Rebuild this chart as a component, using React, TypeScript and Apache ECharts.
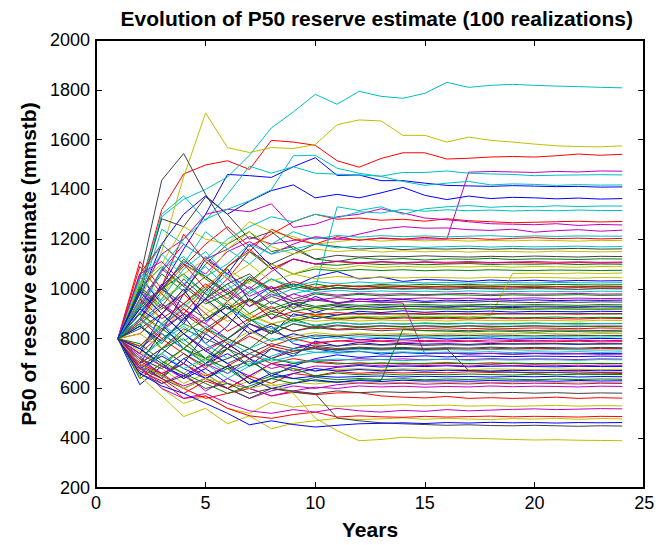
import React, { useEffect, useRef } from "react";
import * as echarts from "echarts";

// Simulation years (x positions of every realization)
const YEARS = [1, 2, 3, 4, 5, 6, 7, 8, 9, 10, 11, 12, 13, 14, 15, 16, 17, 18, 19, 20, 21, 22, 23, 24];

// P50 reserve estimate (mmstb) per realization, grouped by the colour they are plotted in
const BLUE_RUNS = [
  [800, 905, 1010, 1160, 1300, 1460, 1455, 1448, 1491, 1527, 1456, 1458, 1435, 1435, 1425, 1416, 1414, 1412, 1415, 1413, 1411, 1412, 1409, 1410],
  [800, 960, 1180, 1300, 1374, 1300, 1352, 1395, 1418, 1366, 1380, 1366, 1386, 1408, 1376, 1359, 1373, 1363, 1368, 1366, 1362, 1365, 1361, 1363],
  [800, 700, 830, 980, 1120, 1060, 1180, 1090, 1010, 1050, 1070, 1040, 1048, 1030, 1038, 1035, 1030, 1036, 1032, 1035, 1031, 1034, 1032, 1033],
  [800, 1050, 940, 860, 990, 1080, 950, 1010, 920, 970, 940, 960, 952, 958, 950, 955, 953, 957, 954, 956, 953, 955, 954, 955],
  [800, 880, 1020, 890, 780, 850, 960, 880, 940, 905, 930, 920, 925, 930, 928, 926, 929, 927, 925, 928, 927, 926, 928, 927],
  [800, 650, 760, 700, 820, 760, 860, 820, 900, 880, 895, 910, 905, 912, 906, 910, 908, 911, 907, 910, 909, 908, 910, 909],
  [800, 740, 900, 1000, 870, 930, 840, 790, 820, 800, 810, 795, 802, 798, 804, 799, 801, 803, 798, 800, 802, 799, 801, 800],
  [800, 615, 690, 650, 700, 740, 690, 760, 730, 790, 770, 785, 776, 782, 778, 780, 777, 781, 778, 780, 779, 777, 780, 779],
  [800, 850, 790, 880, 960, 890, 820, 850, 780, 760, 745, 750, 738, 744, 740, 742, 739, 741, 738, 741, 740, 739, 741, 740],
  [800, 700, 640, 720, 660, 600, 650, 700, 690, 720, 735, 725, 730, 728, 731, 727, 730, 729, 728, 730, 729, 728, 730, 729],
  [800, 920, 860, 760, 700, 780, 720, 650, 690, 670, 685, 692, 686, 690, 688, 691, 687, 689, 690, 688, 687, 689, 688, 688],
  [800, 760, 700, 640, 680, 620, 600, 640, 660, 680, 670, 676, 671, 674, 670, 673, 672, 670, 673, 671, 672, 673, 671, 672],
  [800, 680, 730, 680, 640, 690, 620, 660, 640, 650, 645, 648, 650, 646, 649, 647, 648, 646, 648, 647, 649, 646, 648, 647],
  [800, 990, 900, 820, 750, 700, 640, 600, 620, 635, 625, 632, 628, 633, 630, 631, 629, 632, 630, 631, 629, 632, 630, 631],
  [800, 660, 610, 580, 540, 500, 454, 470, 455, 445, 452, 458, 460, 462, 459, 463, 461, 464, 462, 463, 461, 463, 462, 463],
];

const GREEN_RUNS = [
  [800, 940, 1060, 990, 1100, 1180, 1230, 1150, 1170, 1120, 1110, 1125, 1118, 1122, 1116, 1121, 1119, 1123, 1118, 1121, 1120, 1118, 1121, 1120],
  [800, 1010, 930, 1040, 960, 1090, 1150, 1080, 1120, 1100, 1095, 1103, 1098, 1101, 1097, 1100, 1102, 1098, 1100, 1099, 1101, 1098, 1100, 1099],
  [800, 880, 990, 1120, 1040, 980, 1030, 1100, 1060, 1080, 1072, 1078, 1074, 1077, 1073, 1076, 1074, 1077, 1075, 1074, 1076, 1075, 1074, 1075],
  [800, 770, 860, 940, 1010, 950, 1040, 990, 1020, 1000, 1015, 1010, 1018, 1014, 1019, 1016, 1018, 1015, 1017, 1016, 1018, 1017, 1016, 1017],
  [800, 930, 1000, 1060, 980, 920, 990, 1040, 1000, 1020, 1005, 1012, 1007, 1010, 1008, 1011, 1009, 1007, 1010, 1008, 1009, 1011, 1008, 1009],
  [800, 850, 780, 880, 960, 1020, 930, 990, 950, 980, 970, 978, 972, 976, 974, 977, 975, 973, 976, 974, 975, 977, 974, 975],
  [800, 720, 800, 860, 820, 900, 960, 920, 950, 930, 940, 934, 938, 935, 937, 934, 936, 938, 935, 937, 936, 934, 937, 936],
  [800, 1000, 1090, 1010, 940, 980, 900, 950, 910, 925, 915, 920, 917, 921, 918, 920, 917, 921, 919, 918, 920, 919, 918, 919],
  [800, 760, 690, 760, 840, 800, 870, 900, 870, 890, 880, 886, 882, 887, 884, 886, 883, 886, 884, 885, 887, 884, 886, 885],
  [800, 900, 840, 780, 720, 800, 760, 830, 880, 850, 865, 858, 862, 859, 863, 860, 862, 859, 861, 863, 860, 862, 860, 861],
  [800, 690, 740, 820, 880, 940, 880, 820, 860, 840, 852, 846, 851, 848, 852, 849, 851, 848, 850, 852, 849, 851, 849, 850],
  [800, 700, 650, 700, 640, 680, 620, 650, 640, 630, 625, 635, 632, 838, 832, 830, 827, 831, 829, 826, 830, 828, 827, 828],
  [800, 860, 760, 800, 720, 760, 690, 720, 700, 710, 702, 698, 703, 699, 701, 704, 700, 698, 702, 700, 699, 701, 700, 700],
  [800, 640, 700, 760, 720, 680, 710, 660, 680, 650, 662, 655, 659, 654, 657, 655, 658, 656, 654, 657, 655, 657, 656, 656],
  [800, 780, 710, 660, 620, 580, 610, 640, 620, 645, 635, 640, 636, 639, 635, 638, 636, 639, 637, 635, 638, 636, 638, 637],
];

const RED_RUNS = [
  [800, 1000, 1319, 1462, 1498, 1515, 1480, 1597, 1590, 1577, 1515, 1489, 1524, 1547, 1547, 1522, 1525, 1530, 1532, 1530, 1535, 1542, 1537, 1541],
  [800, 1110, 1000, 1090, 1180, 1250, 1170, 1220, 1270, 1300, 1280, 1285, 1276, 1280, 1272, 1282, 1274, 1270, 1266, 1268, 1270, 1272, 1269, 1271],
  [800, 870, 1010, 1220, 1110, 1040, 1150, 1240, 1200, 1180, 1210, 1195, 1205, 1200, 1207, 1201, 1204, 1199, 1203, 1206, 1202, 1204, 1201, 1203],
  [800, 1090, 980, 900, 1000, 1090, 1160, 1080, 1120, 1100, 1110, 1102, 1108, 1104, 1107, 1103, 1106, 1104, 1107, 1105, 1103, 1106, 1104, 1105],
  [800, 960, 880, 940, 1020, 960, 1050, 1000, 1030, 1005, 1015, 1008, 1012, 1009, 1011, 1008, 1012, 1010, 1009, 1011, 1010, 1008, 1011, 1010],
  [800, 1060, 1180, 1100, 1000, 920, 960, 880, 910, 895, 905, 898, 902, 899, 903, 900, 898, 902, 899, 901, 900, 898, 901, 900],
  [800, 820, 900, 980, 900, 830, 880, 930, 870, 890, 876, 884, 879, 883, 880, 882, 879, 883, 880, 882, 881, 879, 882, 881],
  [800, 740, 820, 760, 830, 890, 820, 860, 830, 850, 838, 845, 840, 843, 841, 844, 840, 843, 841, 843, 842, 840, 843, 842],
  [800, 880, 800, 740, 680, 760, 810, 770, 800, 780, 792, 786, 790, 785, 789, 787, 790, 786, 789, 787, 788, 790, 787, 788],
  [800, 770, 850, 920, 840, 780, 720, 770, 750, 765, 755, 762, 758, 761, 757, 760, 758, 762, 759, 761, 760, 758, 761, 760],
  [800, 720, 660, 700, 650, 690, 740, 700, 720, 705, 698, 703, 699, 702, 698, 701, 699, 703, 700, 698, 701, 699, 701, 700],
  [800, 690, 640, 580, 630, 600, 650, 620, 660, 650, 668, 661, 666, 662, 665, 663, 667, 664, 666, 663, 665, 667, 664, 665],
  [800, 700, 660, 600, 560, 580, 600, 570, 585, 575, 582, 583, 570, 565, 562, 568, 560, 563, 560, 562, 565, 560, 563, 561],
  [800, 670, 630, 560, 570, 520, 490, 480, 495, 505, 485, 490, 486, 484, 488, 485, 487, 489, 486, 488, 487, 485, 488, 487],
];

const CYAN_RUNS = [
  [800, 980, 1290, 1360, 1400, 1450, 1537, 1647, 1711, 1782, 1742, 1794, 1774, 1766, 1786, 1830, 1810, 1818, 1822, 1818, 1815, 1813, 1810, 1808],
  [800, 1000, 1300, 1374, 1275, 1380, 1493, 1465, 1491, 1465, 1461, 1458, 1453, 1468, 1468, 1474, 1465, 1462, 1460, 1455, 1457, 1458, 1459, 1458],
  [800, 930, 1080, 1200, 1280, 1320, 1354, 1399, 1535, 1537, 1485, 1465, 1452, 1432, 1416, 1425, 1432, 1418, 1422, 1420, 1416, 1419, 1417, 1418],
  [800, 1020, 1140, 1050, 980, 1060, 1000, 940, 980, 1000, 1330, 1315, 1330, 1300, 1322, 1330, 1335, 1328, 1332, 1330, 1334, 1331, 1333, 1333],
  [800, 960, 1240, 1180, 1120, 1200, 1250, 1290, 1270, 1300, 1285, 1310, 1305, 1320, 1312, 1318, 1314, 1317, 1313, 1316, 1314, 1317, 1315, 1315],
  [800, 1040, 1180, 1100, 1230, 1160, 1100, 1180, 1230, 1200, 1215, 1208, 1214, 1210, 1213, 1209, 1212, 1214, 1210, 1213, 1211, 1213, 1212, 1212],
  [800, 900, 1080, 1130, 1050, 1100, 1180, 1140, 1160, 1180, 1165, 1172, 1168, 1171, 1167, 1170, 1172, 1168, 1171, 1169, 1170, 1172, 1169, 1170],
  [800, 850, 960, 1080, 1150, 1050, 980, 1040, 1010, 1030, 1020, 1028, 1023, 1027, 1024, 1026, 1023, 1027, 1025, 1024, 1026, 1025, 1024, 1025],
  [800, 1050, 950, 1020, 1090, 1000, 1050, 970, 1000, 985, 995, 988, 992, 989, 991, 988, 992, 990, 989, 991, 990, 988, 991, 990],
  [800, 760, 850, 930, 1000, 920, 880, 840, 870, 855, 865, 858, 862, 859, 861, 858, 862, 860, 859, 861, 860, 858, 861, 860],
  [800, 720, 790, 850, 780, 720, 760, 800, 790, 810, 802, 808, 805, 809, 806, 808, 805, 809, 807, 806, 808, 807, 806, 808],
  [800, 880, 820, 760, 700, 640, 690, 730, 760, 745, 752, 758, 754, 757, 753, 756, 754, 757, 755, 754, 756, 755, 754, 755],
  [800, 940, 860, 790, 850, 790, 740, 710, 730, 745, 742, 748, 744, 747, 743, 746, 745, 748, 744, 747, 746, 748, 745, 747],
  [800, 660, 740, 680, 720, 660, 700, 720, 705, 712, 718, 713, 716, 712, 715, 717, 713, 716, 714, 716, 715, 713, 716, 715],
];

const MAGENTA_RUNS = [
  [800, 950, 1070, 1180, 1120, 1160, 1210, 1180, 1195, 1205, 1200, 1198, 1203, 1199, 1201, 1200, 1469, 1472, 1470, 1468, 1472, 1470, 1474, 1473],
  [800, 980, 1140, 1200, 1300, 1320, 1310, 1342, 1247, 1260, 1290, 1300, 1322, 1305, 1285, 1278, 1270, 1262, 1260, 1258, 1262, 1255, 1259, 1257],
  [800, 900, 1000, 1110, 1060, 1150, 1190, 1140, 1180, 1210, 1200, 1220, 1240, 1250, 1244, 1245, 1238, 1235, 1240, 1228, 1234, 1238, 1232, 1236],
  [800, 920, 1080, 1010, 1130, 1060, 1000, 1070, 1120, 1100, 1112, 1105, 1110, 1106, 1109, 1107, 1110, 1106, 1108, 1110, 1107, 1109, 1107, 1108],
  [800, 870, 940, 880, 960, 1040, 970, 1010, 960, 985, 975, 982, 978, 981, 977, 980, 982, 978, 981, 979, 980, 982, 979, 980],
  [800, 760, 840, 900, 860, 950, 1010, 940, 980, 955, 965, 958, 963, 960, 964, 961, 963, 960, 962, 964, 961, 963, 961, 962],
  [800, 940, 1000, 920, 860, 800, 860, 820, 860, 845, 855, 848, 852, 849, 851, 848, 852, 850, 849, 851, 850, 848, 851, 850],
  [800, 700, 760, 820, 750, 800, 760, 720, 760, 785, 790, 796, 791, 795, 792, 794, 791, 795, 793, 792, 794, 793, 792, 793],
  [800, 1060, 1110, 1020, 950, 1000, 930, 980, 950, 960, 945, 950, 948, 943, 739, 742, 738, 741, 737, 740, 738, 740, 737, 738],
  [800, 740, 690, 640, 700, 660, 720, 680, 700, 715, 712, 720, 716, 719, 715, 718, 716, 720, 717, 719, 718, 716, 719, 718],
  [800, 730, 650, 610, 640, 690, 650, 700, 670, 690, 688, 696, 691, 695, 692, 694, 690, 695, 692, 694, 693, 691, 694, 693],
  [800, 710, 660, 700, 640, 600, 560, 590, 610, 600, 615, 622, 618, 621, 617, 620, 618, 622, 619, 621, 620, 618, 621, 620],
  [800, 680, 620, 660, 590, 640, 600, 570, 590, 605, 600, 610, 606, 609, 605, 608, 606, 610, 607, 609, 608, 606, 609, 608],
  [800, 690, 600, 560, 580, 540, 510, 500, 515, 505, 520, 510, 505, 512, 508, 515, 510, 513, 516, 518, 515, 517, 519, 518],
];

const YELLOW_RUNS = [
  [800, 950, 1150, 1450, 1707, 1568, 1548, 1568, 1564, 1580, 1660, 1679, 1675, 1617, 1617, 1590, 1610, 1597, 1590, 1582, 1575, 1572, 1571, 1575],
  [800, 1020, 1100, 1250, 1200, 1180, 1270, 1230, 1210, 1180, 1190, 1200, 1192, 1197, 1193, 1196, 1192, 1195, 1193, 1196, 1194, 1192, 1195, 1194],
  [800, 870, 980, 1100, 1040, 1160, 1230, 1170, 1140, 1160, 1150, 1156, 1148, 1153, 1149, 1152, 1148, 1151, 1150, 1148, 1152, 1150, 1149, 1150],
  [800, 900, 830, 920, 1010, 1080, 1020, 1100, 1060, 1090, 1080, 1094, 1086, 1091, 1087, 1090, 1088, 1091, 1087, 1090, 1089, 1087, 1090, 1089],
  [800, 860, 920, 990, 920, 870, 900, 860, 880, 895, 885, 890, 888, 892, 889, 891, 888, 893, 1062, 1063, 1061, 1064, 1062, 1064],
  [800, 1030, 980, 1060, 1120, 1040, 1100, 1030, 1060, 1040, 1050, 1043, 1048, 1044, 1047, 1045, 1043, 1047, 1044, 1046, 1045, 1043, 1046, 1045],
  [800, 880, 960, 1020, 950, 890, 950, 900, 930, 915, 925, 918, 922, 919, 921, 918, 922, 920, 919, 921, 920, 918, 921, 920],
  [800, 820, 760, 830, 900, 950, 890, 860, 880, 870, 876, 871, 875, 872, 874, 871, 875, 873, 872, 874, 873, 871, 874, 873],
  [800, 750, 690, 760, 710, 780, 830, 790, 810, 825, 815, 822, 818, 821, 817, 820, 818, 822, 819, 821, 820, 818, 821, 820],
  [800, 640, 700, 660, 720, 680, 640, 700, 680, 670, 676, 680, 675, 679, 676, 678, 675, 679, 677, 676, 678, 677, 676, 677],
  [800, 720, 680, 620, 660, 600, 630, 610, 625, 618, 628, 622, 626, 623, 627, 624, 626, 623, 625, 627, 624, 626, 624, 625],
  [800, 690, 600, 540, 570, 520, 500, 545, 525, 535, 528, 530, 532, 535, 530, 533, 529, 531, 528, 530, 532, 529, 531, 530],
  [800, 650, 570, 487, 520, 458, 490, 438, 460, 470, 480, 475, 478, 482, 476, 480, 477, 475, 479, 477, 480, 476, 479, 478],
  [800, 700, 650, 600, 640, 620, 600, 620, 580, 481, 430, 390, 395, 404, 400, 402, 400, 398, 395, 393, 394, 392, 391, 390],
];

const BLACK_RUNS = [
  [800, 1040, 1437, 1544, 1380, 1240, 1150, 1100, 1140, 1180, 1170, 1160, 1165, 1158, 1162, 1160, 1163, 1159, 1162, 1160, 1161, 1163, 1160, 1161],
  [800, 980, 1282, 1250, 1370, 1300, 1200, 1230, 1160, 1120, 1135, 1128, 1132, 1129, 1133, 1130, 1128, 1131, 1129, 1132, 1130, 1128, 1131, 1130],
  [800, 900, 1010, 1100, 1050, 980, 1040, 1000, 1020, 995, 1005, 1000, 1006, 1002, 1005, 1003, 1006, 1002, 1004, 1006, 1003, 1005, 1003, 1004],
  [800, 860, 930, 870, 960, 1020, 1060, 990, 1010, 995, 1003, 998, 1002, 999, 1001, 998, 1002, 1000, 999, 1001, 1000, 998, 1001, 1000],
  [800, 1000, 920, 980, 1050, 990, 930, 970, 940, 955, 945, 950, 946, 949, 945, 948, 946, 950, 947, 945, 948, 946, 948, 947],
  [800, 760, 830, 900, 840, 900, 960, 910, 940, 925, 935, 928, 932, 929, 931, 928, 932, 930, 929, 931, 930, 928, 931, 930],
  [800, 920, 1000, 940, 880, 930, 870, 910, 890, 905, 895, 902, 898, 901, 897, 900, 902, 898, 901, 899, 900, 902, 899, 900],
  [800, 700, 760, 840, 800, 760, 820, 860, 830, 845, 835, 838, 832, 836, 833, 835, 832, 836, 834, 833, 835, 834, 833, 834],
  [800, 840, 900, 820, 760, 800, 860, 830, 800, 815, 810, 816, 812, 815, 811, 814, 812, 815, 813, 811, 814, 813, 812, 813],
  [800, 700, 650, 720, 760, 700, 740, 780, 760, 775, 770, 778, 774, 777, 773, 776, 774, 777, 780, 778, 781, 779, 778, 780],
  [800, 880, 820, 760, 700, 760, 720, 760, 740, 770, 760, 766, 762, 765, 761, 764, 762, 766, 763, 765, 764, 762, 765, 764],
  [800, 720, 680, 740, 690, 720, 760, 720, 750, 760, 755, 762, 758, 760, 757, 759, 672, 668, 665, 662, 664, 661, 662, 660],
  [800, 680, 640, 600, 640, 600, 560, 600, 585, 579, 590, 583, 587, 584, 586, 583, 585, 582, 584, 581, 583, 580, 582, 581],
  [800, 660, 620, 650, 600, 620, 580, 600, 590, 579, 481, 470, 462, 458, 455, 452, 454, 451, 450, 452, 450, 448, 450, 449],
];

// Colour order used for successive realizations (b, g, r, c, m, y, k)
const COLOR_GROUPS = [
  { color: "#0000ff", runs: BLUE_RUNS },
  { color: "#008000", runs: GREEN_RUNS },
  { color: "#ff0000", runs: RED_RUNS },
  { color: "#00bfbf", runs: CYAN_RUNS },
  { color: "#bf00bf", runs: MAGENTA_RUNS },
  { color: "#bfbf00", runs: YELLOW_RUNS },
  { color: "#404040", runs: BLACK_RUNS },
];

const X_TICKS = [0, 5, 10, 15, 20, 25];
const Y_TICKS = [200, 400, 600, 800, 1000, 1200, 1400, 1600, 1800, 2000];

const FONT = "'Liberation Sans', Arial, Helvetica, sans-serif";

function buildSeries() {
  const series: any[] = [];
  const maxRuns = Math.max(...COLOR_GROUPS.map((g) => g.runs.length));
  for (let k = 0; k < maxRuns; k++) {
    for (const group of COLOR_GROUPS) {
      const run = group.runs[k];
      if (!run) continue;
      series.push({
        type: "line",
        name: `Realization ${series.length + 1}`,
        data: run.map((v, i) => [YEARS[i], v]),
        showSymbol: false,
        symbol: "none",
        lineStyle: { color: group.color, width: 1 },
        itemStyle: { color: group.color },
        silent: true,
        z: 2,
      });
    }
  }
  return series;
}

export default function App() {
  const ref = useRef<HTMLDivElement>(null);

  useEffect(() => {
    if (!ref.current) return;
    const chart = echarts.init(ref.current, undefined, { renderer: "svg" });

    const xMin = X_TICKS[0];
    const xMax = X_TICKS[X_TICKS.length - 1];
    const yMin = Y_TICKS[0];
    const yMax = Y_TICKS[Y_TICKS.length - 1];

    const axisLine = { show: true, onZero: false, lineStyle: { color: "#000", width: 2 } };
    const tick = { show: true, inside: true, length: 6, lineStyle: { color: "#000", width: 1 } };
    const tickLabel = { color: "#000", fontSize: 18, fontFamily: FONT, margin: 6, formatter: (v: number) => String(v) };
    const nameStyle = { fontFamily: FONT, fontSize: 21, fontWeight: "bold", color: "#000" };

    chart.setOption({
      animation: false,
      backgroundColor: "#ffffff",
      textStyle: { fontFamily: FONT },
      title: {
        text: "Evolution of P50 reserve estimate (100 realizations)",
        left: "55.4%",
        top: 3,
        textAlign: "center",
        textStyle: { fontFamily: FONT, fontSize: 21, fontWeight: "bold", color: "#000" },
      },
      grid: { left: "14.3%", right: "4.0%", top: "7.35%", bottom: "9.35%", containLabel: false },
      xAxis: [
        {
          type: "value",
          min: xMin,
          max: xMax,
          interval: 5,
          position: "bottom",
          name: "Years",
          nameLocation: "middle",
          nameGap: 31,
          nameTextStyle: nameStyle,
          axisLine,
          axisTick: tick,
          axisLabel: tickLabel,
          splitLine: { show: false },
        },
        {
          type: "value",
          min: xMin,
          max: xMax,
          interval: 5,
          position: "top",
          axisLine,
          axisTick: tick,
          axisLabel: { show: false },
          splitLine: { show: false },
        },
      ],
      yAxis: [
        {
          type: "value",
          min: yMin,
          max: yMax,
          interval: 200,
          position: "left",
          name: "P50 of reserve estimate (mmstb)",
          nameLocation: "middle",
          nameGap: 57,
          nameRotate: 90,
          nameTextStyle: nameStyle,
          axisLine,
          axisTick: tick,
          axisLabel: tickLabel,
          splitLine: { show: false },
        },
        {
          type: "value",
          min: yMin,
          max: yMax,
          interval: 200,
          position: "right",
          axisLine,
          axisTick: tick,
          axisLabel: { show: false },
          splitLine: { show: false },
        },
      ],
      series: buildSeries(),
    });

    const onResize = () => chart.resize();
    window.addEventListener("resize", onResize);
    return () => {
      window.removeEventListener("resize", onResize);
      chart.dispose();
    };
  }, []);

  return (
    <div
      ref={ref}
      style={{ position: "fixed", left: 0, top: 0, width: "100vw", height: "100vh", background: "#fff" }}
    />
  );
}
